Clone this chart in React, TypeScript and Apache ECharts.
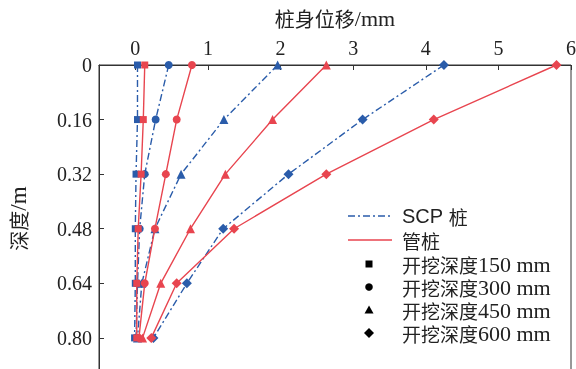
import React, { useEffect, useRef } from "react";
import * as echarts from "echarts";

const depths = [0, 0.16, 0.32, 0.48, 0.64, 0.8];
const scp150 = [0.03, 0.03, 0.01, 0.0, 0.0, -0.01];
const scp300 = [0.46, 0.28, 0.13, 0.06, 0.03, 0.01];
const scp450 = [1.96, 1.22, 0.63, 0.27, 0.09, 0.03];
const scp600 = [4.25, 3.13, 2.11, 1.21, 0.71, 0.25];
const pipe150 = [0.13, 0.11, 0.08, 0.04, 0.02, 0.02];
const pipe300 = [0.78, 0.57, 0.42, 0.27, 0.13, 0.05];
const pipe450 = [2.63, 1.89, 1.24, 0.76, 0.35, 0.1];
const pipe600 = [5.8, 4.11, 2.63, 1.36, 0.57, 0.22];

const xTicks = [0, 1, 2, 3, 4, 5, 6];
const yTicks = [0, 0.16, 0.32, 0.48, 0.64, 0.8];

const legendLines = ["SCP 桩", "管桩"];
const legendMarkerPrefix = "开挖深度";
const legendMarkerDepths = ["150 mm", "300 mm", "450 mm", "600 mm"];

const BLUE = "#2a5caa";
const RED = "#e8454f";
const SERIF = '"Liberation Serif", serif';
const CJK = '"Noto Sans CJK SC", sans-serif';
const FONT = '"Liberation Serif", "Noto Sans CJK SC", serif';

export default function App() {
  const ref = useRef<HTMLDivElement>(null);
  useEffect(() => {
    if (!ref.current) return;
    const chart = echarts.init(ref.current, null, { renderer: "svg" });
    const symbols = ["rect", "circle", "triangle", "diamond"];
    const sizes = [7, 8, 9, 10];
    const mk = (vals: number[], color: string, idx: number, dashed: boolean) => ({
      type: "line",
      data: vals.map((v, i) => [v, depths[i]]),
      symbol: symbols[idx],
      symbolSize: sizes[idx],
      showAllSymbol: true,
      itemStyle: { color },
      lineStyle: { color, width: 1.4, type: dashed ? [7, 3, 2, 3] : "solid" },
      z: dashed ? 2 : 3,
    });
    const series = [
      mk(scp150, BLUE, 0, true),
      mk(scp300, BLUE, 1, true),
      mk(scp450, BLUE, 2, true),
      mk(scp600, BLUE, 3, true),
      mk(pipe150, RED, 0, false),
      mk(pipe300, RED, 1, false),
      mk(pipe450, RED, 2, false),
      mk(pipe600, RED, 3, false),
    ];

    const rich = {
      c: { fontSize: 19, lineHeight: 20, fontFamily: CJK, fill: "#222", color: "#222" },
      l: { fontSize: 22, lineHeight: 20, fontFamily: SERIF, fill: "#222", color: "#222" },
      s: { fontSize: 20, lineHeight: 20, fontFamily: '"Liberation Sans", sans-serif', fill: "#222", color: "#222" },
    };

    const lx = 348, tx = 402;
    const rowY = [216, 240, 264, 287, 310, 333];
    const graphic: any[] = [
      { type: "line", shape: { x1: lx, y1: rowY[0], x2: lx + 42, y2: rowY[0] }, style: { stroke: BLUE, lineWidth: 1.5, lineDash: [7, 3, 2, 3] } },
      { type: "line", shape: { x1: lx, y1: rowY[1], x2: lx + 44, y2: rowY[1] }, style: { stroke: RED, lineWidth: 1.5 } },
      { type: "rect", shape: { x: 365.5, y: rowY[2] - 3.5, width: 7, height: 7 }, style: { fill: "#000" } },
      { type: "circle", shape: { cx: 369, cy: rowY[3], r: 3.8 }, style: { fill: "#000" } },
      { type: "polygon", shape: { points: [[369, rowY[4] - 4.5], [373.5, rowY[4] + 3.5], [364.5, rowY[4] + 3.5]] }, style: { fill: "#000" } },
      { type: "polygon", shape: { points: [[369, rowY[5] - 5], [374, rowY[5]], [369, rowY[5] + 5], [364, rowY[5]]] }, style: { fill: "#000" } },
    ];
    const legendTexts = [
      `{s|SCP }{c|${legendLines[0].replace("SCP ", "")}}`,
      `{c|${legendLines[1]}}`,
      ...legendMarkerDepths.map((d) => `{c|${legendMarkerPrefix}}{l|${d}}`),
    ];
    legendTexts.forEach((t, i) => {
      graphic.push({
        type: "text",
        x: tx,
        y: rowY[i],
        style: { text: t, rich, fill: "#222", verticalAlign: "middle", align: "left" },
      });
    });

    chart.setOption({
      animation: false,
      textStyle: { fontFamily: FONT },
      grid: {
        left: 99,
        right: 5,
        top: 65,
        bottom: -3,
        containLabel: false,
        outerBoundsMode: "none",
        show: true,
        borderColor: "#333",
        borderWidth: 1,
      },
      xAxis: {
        type: "value",
        position: "top",
        min: -0.5,
        max: 6,
        name: "{c|桩身位移}{l|/mm}",
        nameLocation: "middle",
        nameGap: 36,
        nameTextStyle: {
          rich: {
            c: { fontSize: 20, fontFamily: CJK, color: "#222" },
            l: { fontSize: 22, fontFamily: SERIF, color: "#222" },
          },
        },
        axisLine: { show: true, onZero: false, lineStyle: { color: "#333", width: 1 } },
        axisTick: { show: true, inside: true, length: 5, customValues: xTicks, lineStyle: { color: "#333" } },
        axisLabel: { customValues: xTicks, fontSize: 20, color: "#222", margin: 7, fontFamily: SERIF, formatter: (v: number) => String(v) },
        splitLine: { show: false },
      },
      yAxis: {
        type: "value",
        inverse: true,
        min: 0,
        max: 0.9,
        name: "{c|深度}{l|/m}",
        nameLocation: "middle",
        nameGap: 69,
        nameRotate: 90,
        nameTextStyle: {
          rich: {
            c: { fontSize: 20, fontFamily: CJK, color: "#222" },
            l: { fontSize: 23, fontFamily: SERIF, color: "#222" },
          },
        },
        axisLine: { show: true, onZero: false, lineStyle: { color: "#333", width: 1 } },
        axisTick: { show: true, inside: true, length: 5, customValues: yTicks, lineStyle: { color: "#333" } },
        axisLabel: {
          customValues: yTicks,
          fontSize: 20,
          color: "#222",
          margin: 7,
          fontFamily: SERIF,
          formatter: (v: number) => (v === 0 ? "0" : v.toFixed(2)),
        },
        splitLine: { show: false },
      },
      graphic,
      series,
    } as any);
    return () => chart.dispose();
  }, []);
  return <div ref={ref} style={{ position: "fixed", left: 0, top: 0, width: 576, height: 369 }} />;
}
